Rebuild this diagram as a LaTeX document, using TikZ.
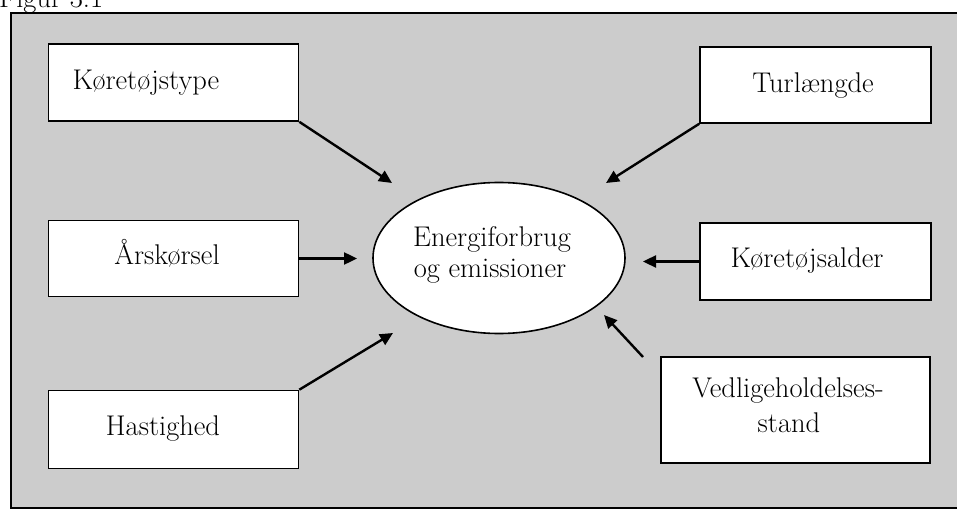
\documentclass[tikz,border=0pt]{standalone}
\usetikzlibrary{arrows.meta,shapes.geometric}
\definecolor{bg}{gray}{0.80}
\begin{document}
\begin{tikzpicture}[x=1pt,y=-1pt,
  box/.style={draw, line width=1.6pt, fill=white, inner sep=0pt},
  lbl/.style={inner sep=0pt, anchor=base, font=\fontsize{28.5}{31}\selectfont},
  arr/.style={line width=2.4pt, -{Triangle[length=13pt,width=12pt]}}]
\useasboundingbox (0,0) rectangle (957,510);
\node[lbl, anchor=base west] (fig) at (-1,8) {Figur 3.1};
\draw[fill=bg, line width=2pt] (11,13) rectangle (975,508);
% boxes
\node[box, minimum width=250, minimum height=77] (kt) at (173.5,82.5) {};
\node[box, minimum width=231, minimum height=76] (tl) at (815.5,85) {};
\node[box, minimum width=250, minimum height=76] (ak) at (173.5,258.5) {};
\node[box, minimum width=231, minimum height=77] (ka) at (815.5,261.5) {};
\node[box, minimum width=250, minimum height=78] (hs) at (173.5,429.5) {};
\node[box, minimum width=269, minimum height=106] (vh) at (795.5,410) {};
% labels
\node[lbl] (ktl) at (146,90) {Køretøjstype};
\node[lbl] (tll) at (813,93) {Turlængde};
\node[lbl] (akl) at (167,265) {Årskørsel};
\node[lbl] (kal) at (807,268) {Køretøjsalder};
\node[lbl] (hsl) at (163,435) {Hastighed};
\node[lbl] (vhl1) at (788,397) {Vedligeholdelses-};
\node[lbl] (vhl2) at (789,432) {stand};
% centre
\node[ellipse, draw, line width=1.6pt, fill=white, inner sep=0pt,
      minimum width=252, minimum height=151] (e) at (499,258) {};
\node[lbl] (el1) at (492,247) {Energiforbrug};
\node[lbl] (el2) at (490,278) {og emissioner};
% arrow tips
\coordinate (t1) at (392,183);
\coordinate (t2) at (606,183);
\coordinate (t3) at (357,258.5);
\coordinate (t4) at (643,261.5);
\coordinate (t5) at (393,333);
\coordinate (t6) at (604,315);
\coordinate (s6) at (643,357);
\draw[arr] (kt.south east) -- (t1);
\draw[arr] (tl.south west) -- (t2);
\draw[arr] (ak.east) -- (t3);
\draw[arr] (ka.west) -- (t4);
\draw[arr] (hs.north east) -- (t5);
\draw[arr] (s6) -- (t6);
\end{tikzpicture}
\end{document}
